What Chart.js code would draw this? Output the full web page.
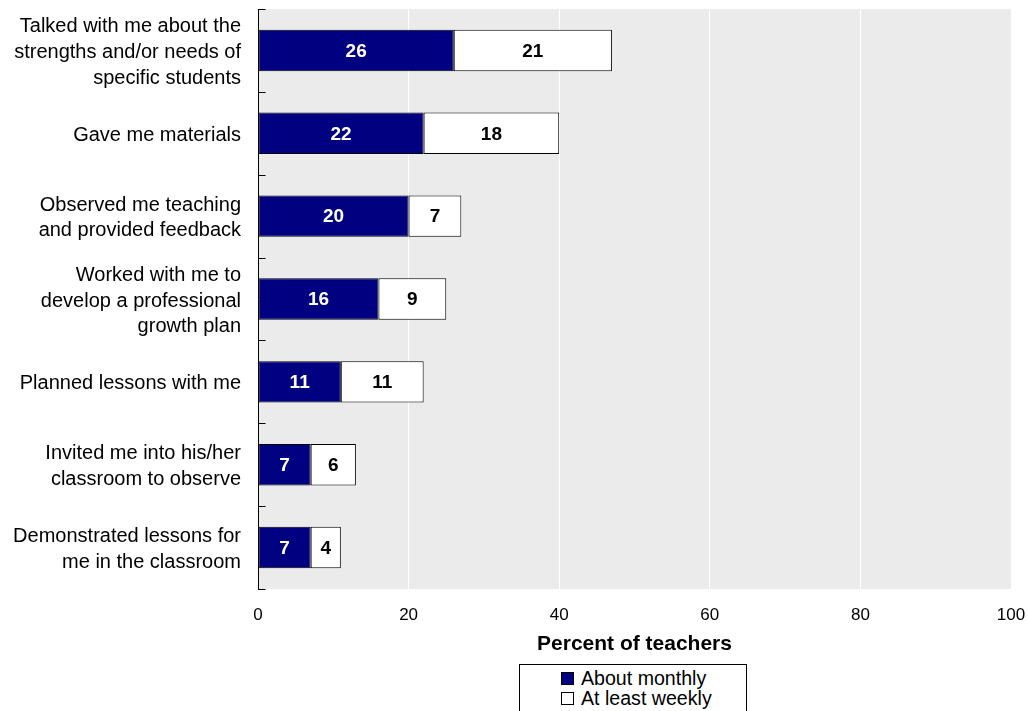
<!DOCTYPE html>
<html>
<head>
<meta charset="utf-8">
<script src="https://cdn.jsdelivr.net/npm/chart.js@4/dist/chart.umd.min.js"></script>
<style>
  html, body { margin: 0; padding: 0; background: #fff; }
  #wrap { position: relative; width: 1028px; height: 711px; overflow: hidden; }
  #legend {
    position: absolute; left: 519px; top: 664px; width: 228px; height: 60px;
    border: 1px solid #000; box-sizing: border-box; background: #fff;
    font-family: "Liberation Sans", Arial, sans-serif; font-size: 19.6px; color: #000;
    padding-top: 3px;
  }
  #legend .item { display: flex; align-items: center; margin-left: 41px; height: 20px; line-height: 20px; }
  #legend .sw { width: 11px; height: 11px; border: 1px solid #000; margin-right: 7px; }
</style>
</head>
<body>
<div id="wrap">
  <canvas id="c" width="1028" height="711"></canvas>
  <div id="legend"></div>
</div>
<script>
const categories = [
  ["Talked with me about the", "strengths and/or needs of", "specific students"],
  ["Gave me materials"],
  ["Observed me teaching", "and provided feedback"],
  ["Worked with me to", "develop a professional", "growth plan"],
  ["Planned lessons with me"],
  ["Invited me into his/her", "classroom to observe"],
  ["Demonstrated lessons for", "me in the classroom"]
];
const aboutMonthly = [26, 22, 20, 16, 11, 7, 7];
const atLeastWeekly = [21, 18, 7, 9, 11, 6, 4];
const seriesNames = ["About monthly", "At least weekly"];
const seriesColors = ["#000080", "#ffffff"];
const labelColors = ["#ffffff", "#000000"];
const xTicks = [0, 20, 40, 60, 80, 100];
const xTitle = "Percent of teachers";

const FONT = '"Liberation Sans", Arial, sans-serif';

const bgPlugin = {
  id: 'bg',
  beforeDraw(chart) {
    const {ctx, chartArea: a} = chart;
    ctx.save();
    ctx.fillStyle = '#ebebeb';
    ctx.fillRect(a.left, a.top, a.right - a.left, a.bottom - a.top);
    ctx.restore();
  }
};

const innerTicksPlugin = {
  id: 'innerTicks',
  afterDraw(chart) {
    const ctx = chart.ctx;
    const y = chart.scales.y;
    const x0 = Math.round(chart.chartArea.left) + 0.5;
    ctx.save();
    ctx.strokeStyle = '#000';
    ctx.lineWidth = 1;
    for (let i = 0; i <= categories.length; i++) {
      const py = Math.round(y.getPixelForValue(i - 0.5)) + 0.5;
      ctx.beginPath();
      ctx.moveTo(x0, py);
      ctx.lineTo(x0 + 7, py);
      ctx.stroke();
    }
    ctx.restore();
  }
};

const valueLabelPlugin = {
  id: 'valueLabels',
  afterDatasetsDraw(chart) {
    const ctx = chart.ctx;
    ctx.save();
    ctx.font = 'bold 19px ' + FONT;
    ctx.textAlign = 'center';
    ctx.textBaseline = 'middle';
    chart.data.datasets.forEach((ds, di) => {
      const meta = chart.getDatasetMeta(di);
      meta.data.forEach((el, i) => {
        const v = ds.data[i];
        ctx.fillStyle = labelColors[di];
        ctx.fillText(String(v), (el.x + el.base) / 2, el.y + 1);
      });
    });
    ctx.restore();
  }
};

new Chart(document.getElementById('c'), {
  type: 'bar',
  data: {
    labels: categories,
    datasets: [
      { label: seriesNames[0], data: aboutMonthly, backgroundColor: seriesColors[0], borderColor: '#000', borderWidth: 1, borderSkipped: false },
      { label: seriesNames[1], data: atLeastWeekly, backgroundColor: seriesColors[1], borderColor: '#000', borderWidth: 1, borderSkipped: false }
    ]
  },
  options: {
    indexAxis: 'y',
    responsive: false,
    animation: false,
    devicePixelRatio: 1,
    layout: { padding: { top: 9, right: 17, bottom: 54, left: 0 } },
    datasets: { bar: { categoryPercentage: 1, barPercentage: 0.5 } },
    plugins: { legend: { display: false }, tooltip: { enabled: false } },
    scales: {
      x: {
        stacked: true, min: 0, max: 100,
        afterBuildTicks(s) { s.ticks = xTicks.map(v => ({ value: v })); },
        afterFit(s) { s.height = 68; s.paddingLeft = 0; s.paddingRight = 0; },
        grid: {
          color: c => (c.tick && (c.tick.value === 0 || c.tick.value === 100)) ? 'rgba(0,0,0,0)' : '#ffffff',
          lineWidth: 1, drawTicks: false
        },
        border: { display: false },
        ticks: { padding: 16, color: '#000', font: { family: FONT, size: 17 } },
        title: { display: true, text: xTitle, color: '#000', padding: { top: 8, bottom: 0 }, font: { family: FONT, size: 21, weight: 'bold' } }
      },
      y: {
        stacked: true,
        afterFit(s) { s.width = 258; s.paddingTop = 0; s.paddingBottom = 0; },
        grid: { display: false, drawTicks: false },
        border: { display: true, color: '#000', width: 1 },
        ticks: { padding: 17, labelOffset: 2, color: '#000', font: { family: FONT, size: 20, lineHeight: 1.28 } }
      }
    }
  },
  plugins: [bgPlugin, innerTicksPlugin, valueLabelPlugin]
});

const lg = document.getElementById('legend');
seriesNames.forEach((n, i) => {
  const it = document.createElement('div');
  it.className = 'item';
  const sw = document.createElement('span');
  sw.className = 'sw';
  sw.style.background = seriesColors[i];
  const t = document.createElement('span');
  t.textContent = n;
  it.appendChild(sw); it.appendChild(t);
  lg.appendChild(it);
});
</script>
</body>
</html>
